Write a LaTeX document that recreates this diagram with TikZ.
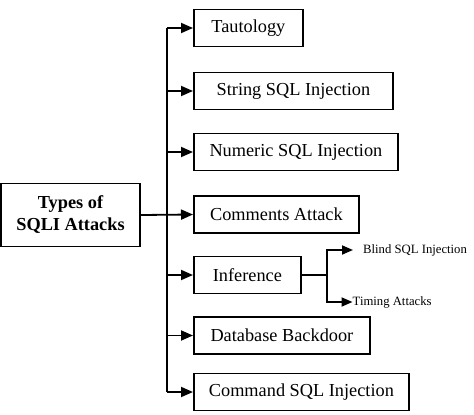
\documentclass[tikz,border=0pt]{standalone}
\usepackage{fontspec}
\setmainfont{Liberation Serif}
\usetikzlibrary{arrows.meta}
\begin{document}
\begin{tikzpicture}[x=1pt,y=1pt,
  box/.style={draw,line width=1.8pt,anchor=west,minimum height=37pt,inner sep=0pt,font=\fontsize{18.3}{21}\selectfont},
  conn/.style={line width=1.8pt},
  arr/.style={line width=1.8pt,-{Triangle[length=12pt,width=10pt]}},
  sarr/.style={line width=1.8pt,-{Triangle[length=11pt,width=9pt]}},
  small/.style={font=\fontsize{12.7}{14}\selectfont,inner sep=0pt,anchor=west}]
\useasboundingbox (0,0) rectangle (474,-415);
\node[draw,line width=1.8pt,minimum width=139pt,minimum height=63pt,inner sep=0pt,align=center,
  font=\fontsize{18.3}{22}\selectfont\bfseries] (main) at (70.5,-215) {Types of\\SQLI Attacks};
\node[box,minimum width=109pt] (taut) at (193,-28) {Tautology};
\node[box,minimum width=199pt] (str) at (193,-91) {String SQL Injection};
\node[box,minimum width=204pt] (num) at (193,-152) {Numeric SQL Injection};
\node[box,minimum width=165pt] (com) at (193,-214.5) {Comments Attack};
\node[box,minimum width=107pt] (inf) at (193,-275) {Inference};
\node[box,minimum width=176pt] (db) at (193,-335.5) {Database Backdoor};
\node[box,minimum width=215pt] (cmd) at (193,-392) {Command SQL Injection};
\node[small] (blind) at (363,-250) {Blind SQL Injection};
\node[small] (timing) at (352.5,-302) {Timing Attacks};
\coordinate (bustop) at (167,-28);
\coordinate (busbot) at (167,-392);
\coordinate (fork) at (327,-275);
\draw[conn] (bustop) -- (busbot);
\draw[arr] (main.east) -- (com.west);
\foreach \n in {taut,str,num,inf,db,cmd}{
  \draw[arr] (\n.west -| bustop) -- (\n.west);
}
\draw[conn] (inf.east) -- (fork);
\draw[sarr] (fork) |- ([xshift=-10pt]blind.west);
\draw[sarr] (fork) |- (timing.west);
\end{tikzpicture}
\end{document}
